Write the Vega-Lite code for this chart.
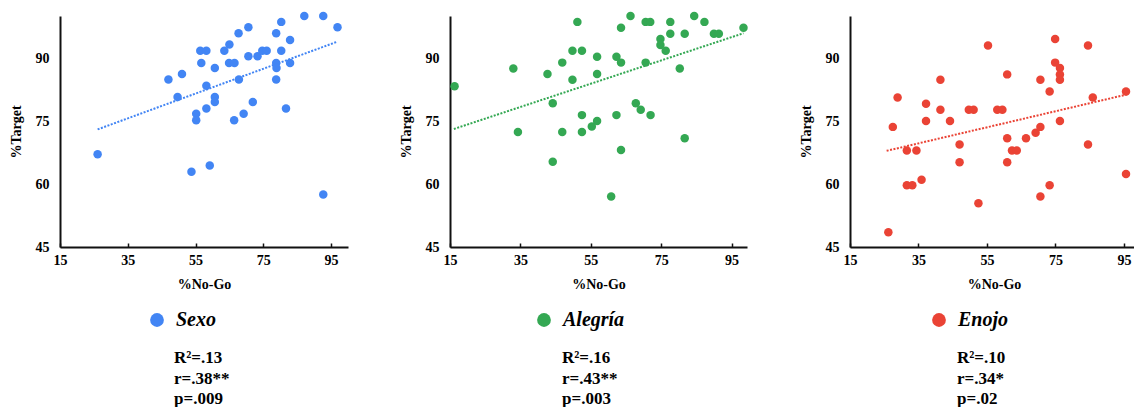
{
  "$schema": "https://vega.github.io/schema/vega-lite/v6.json",
  "background": "white",
  "padding": {"left": 9, "top": 11, "right": 0, "bottom": 0},
  "spacing": 51,
  "datasets": {
    "points": [
      {"g": "Sexo", "nogo": 26.1, "target": 67.1},
      {"g": "Sexo", "nogo": 47.0, "target": 84.9},
      {"g": "Sexo", "nogo": 51.0, "target": 86.2},
      {"g": "Sexo", "nogo": 49.7, "target": 80.7},
      {"g": "Sexo", "nogo": 53.8, "target": 62.9},
      {"g": "Sexo", "nogo": 55.2, "target": 76.7},
      {"g": "Sexo", "nogo": 55.2, "target": 75.2},
      {"g": "Sexo", "nogo": 56.4, "target": 91.7},
      {"g": "Sexo", "nogo": 58.2, "target": 91.7},
      {"g": "Sexo", "nogo": 56.7, "target": 88.8},
      {"g": "Sexo", "nogo": 58.2, "target": 83.4},
      {"g": "Sexo", "nogo": 58.2, "target": 78.0},
      {"g": "Sexo", "nogo": 59.2, "target": 64.4},
      {"g": "Sexo", "nogo": 60.7, "target": 87.6},
      {"g": "Sexo", "nogo": 60.7, "target": 80.7},
      {"g": "Sexo", "nogo": 60.7, "target": 79.5},
      {"g": "Sexo", "nogo": 63.5, "target": 91.7},
      {"g": "Sexo", "nogo": 65.0, "target": 93.2},
      {"g": "Sexo", "nogo": 64.9, "target": 88.8},
      {"g": "Sexo", "nogo": 66.5, "target": 88.8},
      {"g": "Sexo", "nogo": 66.4, "target": 75.2},
      {"g": "Sexo", "nogo": 67.7, "target": 95.9},
      {"g": "Sexo", "nogo": 67.8, "target": 84.9},
      {"g": "Sexo", "nogo": 69.2, "target": 76.7},
      {"g": "Sexo", "nogo": 70.6, "target": 97.3},
      {"g": "Sexo", "nogo": 70.6, "target": 90.4},
      {"g": "Sexo", "nogo": 71.9, "target": 79.5},
      {"g": "Sexo", "nogo": 73.3, "target": 90.4},
      {"g": "Sexo", "nogo": 74.7, "target": 91.7},
      {"g": "Sexo", "nogo": 76.0, "target": 91.7},
      {"g": "Sexo", "nogo": 78.8, "target": 95.9},
      {"g": "Sexo", "nogo": 78.8, "target": 88.8},
      {"g": "Sexo", "nogo": 78.9, "target": 87.6},
      {"g": "Sexo", "nogo": 78.8, "target": 84.9},
      {"g": "Sexo", "nogo": 80.3, "target": 98.6},
      {"g": "Sexo", "nogo": 80.3, "target": 91.7},
      {"g": "Sexo", "nogo": 81.7, "target": 78.0},
      {"g": "Sexo", "nogo": 82.9, "target": 94.3},
      {"g": "Sexo", "nogo": 82.9, "target": 88.8},
      {"g": "Sexo", "nogo": 87.1, "target": 100.0},
      {"g": "Sexo", "nogo": 92.7, "target": 100.0},
      {"g": "Sexo", "nogo": 92.7, "target": 57.5},
      {"g": "Sexo", "nogo": 96.9, "target": 97.3},
      {"g": "Alegría", "nogo": 16.3, "target": 83.3},
      {"g": "Alegría", "nogo": 33.0, "target": 87.5},
      {"g": "Alegría", "nogo": 34.3, "target": 72.4},
      {"g": "Alegría", "nogo": 42.7, "target": 86.2},
      {"g": "Alegría", "nogo": 44.2, "target": 79.2},
      {"g": "Alegría", "nogo": 44.2, "target": 65.3},
      {"g": "Alegría", "nogo": 46.9, "target": 88.9},
      {"g": "Alegría", "nogo": 46.9, "target": 72.4},
      {"g": "Alegría", "nogo": 49.8, "target": 91.7},
      {"g": "Alegría", "nogo": 49.8, "target": 84.8},
      {"g": "Alegría", "nogo": 51.2, "target": 98.6},
      {"g": "Alegría", "nogo": 52.5, "target": 91.7},
      {"g": "Alegría", "nogo": 52.5, "target": 76.4},
      {"g": "Alegría", "nogo": 52.5, "target": 72.4},
      {"g": "Alegría", "nogo": 55.3, "target": 73.7},
      {"g": "Alegría", "nogo": 56.8, "target": 90.3},
      {"g": "Alegría", "nogo": 56.8, "target": 86.2},
      {"g": "Alegría", "nogo": 56.8, "target": 75.0},
      {"g": "Alegría", "nogo": 60.8, "target": 57.0},
      {"g": "Alegría", "nogo": 62.3, "target": 90.3},
      {"g": "Alegría", "nogo": 62.3, "target": 76.4},
      {"g": "Alegría", "nogo": 63.6, "target": 97.2},
      {"g": "Alegría", "nogo": 63.6, "target": 88.9},
      {"g": "Alegría", "nogo": 63.6, "target": 68.1},
      {"g": "Alegría", "nogo": 66.3, "target": 100.0},
      {"g": "Alegría", "nogo": 67.8, "target": 79.2},
      {"g": "Alegría", "nogo": 69.2, "target": 77.7},
      {"g": "Alegría", "nogo": 70.6, "target": 98.6},
      {"g": "Alegría", "nogo": 71.9, "target": 98.6},
      {"g": "Alegría", "nogo": 70.6, "target": 88.9},
      {"g": "Alegría", "nogo": 72.0, "target": 76.4},
      {"g": "Alegría", "nogo": 74.8, "target": 94.5},
      {"g": "Alegría", "nogo": 74.8, "target": 93.1},
      {"g": "Alegría", "nogo": 76.3, "target": 91.7},
      {"g": "Alegría", "nogo": 77.6, "target": 98.6},
      {"g": "Alegría", "nogo": 77.6, "target": 95.8},
      {"g": "Alegría", "nogo": 80.3, "target": 87.5},
      {"g": "Alegría", "nogo": 81.7, "target": 95.8},
      {"g": "Alegría", "nogo": 81.7, "target": 70.9},
      {"g": "Alegría", "nogo": 84.4, "target": 100.0},
      {"g": "Alegría", "nogo": 87.3, "target": 98.6},
      {"g": "Alegría", "nogo": 90.0, "target": 95.8},
      {"g": "Alegría", "nogo": 91.4, "target": 95.8},
      {"g": "Alegría", "nogo": 98.4, "target": 97.2},
      {"g": "Enojo", "nogo": 26.2, "target": 48.5},
      {"g": "Enojo", "nogo": 27.5, "target": 73.6},
      {"g": "Enojo", "nogo": 28.9, "target": 80.6},
      {"g": "Enojo", "nogo": 31.6, "target": 68.0},
      {"g": "Enojo", "nogo": 31.6, "target": 59.7},
      {"g": "Enojo", "nogo": 33.2, "target": 59.7},
      {"g": "Enojo", "nogo": 34.4, "target": 68.0},
      {"g": "Enojo", "nogo": 35.9, "target": 61.0},
      {"g": "Enojo", "nogo": 37.2, "target": 79.1},
      {"g": "Enojo", "nogo": 37.2, "target": 75.0},
      {"g": "Enojo", "nogo": 41.4, "target": 84.8},
      {"g": "Enojo", "nogo": 41.4, "target": 77.7},
      {"g": "Enojo", "nogo": 44.2, "target": 75.0},
      {"g": "Enojo", "nogo": 47.0, "target": 69.4},
      {"g": "Enojo", "nogo": 47.0, "target": 65.2},
      {"g": "Enojo", "nogo": 49.7, "target": 77.7},
      {"g": "Enojo", "nogo": 51.1, "target": 77.7},
      {"g": "Enojo", "nogo": 52.5, "target": 55.4},
      {"g": "Enojo", "nogo": 55.3, "target": 93.0},
      {"g": "Enojo", "nogo": 58.0, "target": 77.7},
      {"g": "Enojo", "nogo": 59.5, "target": 77.7},
      {"g": "Enojo", "nogo": 60.9, "target": 86.1},
      {"g": "Enojo", "nogo": 60.9, "target": 70.9},
      {"g": "Enojo", "nogo": 60.9, "target": 65.2},
      {"g": "Enojo", "nogo": 62.3, "target": 68.0},
      {"g": "Enojo", "nogo": 63.7, "target": 68.0},
      {"g": "Enojo", "nogo": 66.4, "target": 70.9},
      {"g": "Enojo", "nogo": 69.2, "target": 72.2},
      {"g": "Enojo", "nogo": 70.6, "target": 84.8},
      {"g": "Enojo", "nogo": 70.6, "target": 73.6},
      {"g": "Enojo", "nogo": 70.6, "target": 57.0},
      {"g": "Enojo", "nogo": 73.3, "target": 82.0},
      {"g": "Enojo", "nogo": 73.3, "target": 59.7},
      {"g": "Enojo", "nogo": 74.9, "target": 94.5},
      {"g": "Enojo", "nogo": 74.9, "target": 88.9},
      {"g": "Enojo", "nogo": 76.3, "target": 87.6},
      {"g": "Enojo", "nogo": 76.3, "target": 86.1},
      {"g": "Enojo", "nogo": 76.3, "target": 84.8},
      {"g": "Enojo", "nogo": 76.3, "target": 75.0},
      {"g": "Enojo", "nogo": 84.5, "target": 93.0},
      {"g": "Enojo", "nogo": 84.5, "target": 69.4},
      {"g": "Enojo", "nogo": 85.9, "target": 80.6},
      {"g": "Enojo", "nogo": 95.6, "target": 82.0},
      {"g": "Enojo", "nogo": 95.6, "target": 62.4}
    ],
    "trend": [
      {"g": "Sexo", "nogo": 26.1, "target": 73.0},
      {"g": "Sexo", "nogo": 96.9, "target": 93.9},
      {"g": "Alegría", "nogo": 16.1, "target": 73.1},
      {"g": "Alegría", "nogo": 98.4, "target": 95.9},
      {"g": "Enojo", "nogo": 25.7, "target": 67.9},
      {"g": "Enojo", "nogo": 95.8, "target": 81.3}
    ]
  },
  "config": {
    "view": {"stroke": null},
    "font": "Liberation Serif",
    "axis": {
      "labelFont": "Liberation Serif", "labelFontWeight": "bold", "labelFontSize": 14, "labelColor": "#000",
      "titleFont": "Liberation Serif", "titleFontWeight": "bold", "titleFontSize": 14, "titleColor": "#000",
      "grid": false, "domainColor": "#111", "domainWidth": 2, "labelFlush": false
    },
    "axisX": {"tickSize": -4, "tickColor": "#111", "tickWidth": 1.5, "labelPadding": 10, "titlePadding": 10},
    "axisY": {"ticks": false, "labelPadding": 11, "titlePadding": 12},
    "legend": {
      "orient": "none", "title": null, "symbolType": "circle", "symbolSize": 190, "symbolOpacity": 1,
      "labelFont": "Liberation Serif", "labelFontStyle": "italic", "labelFontWeight": "bold",
      "labelFontSize": 20, "labelColor": "#000", "labelOffset": 9, "legendY": 294
    },
    "title": {"font": "Liberation Serif", "fontWeight": "bold", "fontSize": 17, "color": "#000", "lineHeight": 20.5, "orient": "bottom", "anchor": "start", "frame": "group", "offset": 20}
  },
  "resolve": {"scale": {"color": "independent", "x": "independent", "y": "independent"}, "legend": {"color": "independent"}},
  "hconcat": [
    {
      "width": 288, "height": 231,
      "title": {"text": ["R²=.13", "r=.38**", "p=.009"], "dx": 114},
      "layer": [
        {
          "data": {"name": "trend"},
          "transform": [{"filter": "datum.g === 'Sexo'"}],
          "mark": {"type": "line", "color": "#4285F4", "strokeDash": [2, 1.5], "strokeWidth": 2},
          "encoding": {
            "x": {"field": "nogo", "type": "quantitative", "scale": {"domain": [15, 100], "nice": false}},
            "y": {"field": "target", "type": "quantitative", "scale": {"domain": [45, 100], "nice": false}}
          }
        },
        {
          "data": {"name": "points"},
          "transform": [{"filter": "datum.g === 'Sexo'"}],
          "mark": {"type": "circle", "opacity": 1, "size": 72},
          "encoding": {
            "x": {"field": "nogo", "type": "quantitative", "scale": {"domain": [15, 100], "nice": false}, "axis": {"values": [15, 35, 55, 75, 95], "title": "%No-Go"}},
            "y": {"field": "target", "type": "quantitative", "scale": {"domain": [45, 100], "nice": false}, "axis": {"values": [45, 60, 75, 90], "title": "%Target"}},
            "color": {"field": "g", "type": "nominal", "scale": {"domain": ["Sexo"], "range": ["#4285F4"]}, "legend": {"legendX": 87}}
          }
        }
      ]
    },
    {
      "width": 297, "height": 231,
      "title": {"text": ["R²=.16", "r=.43**", "p=.003"], "dx": 112},
      "layer": [
        {
          "data": {"name": "trend"},
          "transform": [{"filter": "datum.g === 'Alegría'"}],
          "mark": {"type": "line", "color": "#34A853", "strokeDash": [2, 1.5], "strokeWidth": 2},
          "encoding": {
            "x": {"field": "nogo", "type": "quantitative", "scale": {"domain": [15, 99.4], "nice": false}},
            "y": {"field": "target", "type": "quantitative", "scale": {"domain": [45, 100], "nice": false}}
          }
        },
        {
          "data": {"name": "points"},
          "transform": [{"filter": "datum.g === 'Alegría'"}],
          "mark": {"type": "circle", "opacity": 1, "size": 72},
          "encoding": {
            "x": {"field": "nogo", "type": "quantitative", "scale": {"domain": [15, 99.4], "nice": false}, "axis": {"values": [15, 35, 55, 75, 95], "title": "%No-Go"}},
            "y": {"field": "target", "type": "quantitative", "scale": {"domain": [45, 100], "nice": false}, "axis": {"values": [45, 60, 75, 90], "title": "%Target"}},
            "color": {"field": "g", "type": "nominal", "scale": {"domain": ["Alegría"], "range": ["#34A853"]}, "legend": {"legendX": 84}}
          }
        }
      ]
    },
    {
      "width": 288, "height": 231,
      "title": {"text": ["R²=.10", "r=.34*", "p=.02"], "dx": 107},
      "layer": [
        {
          "data": {"name": "trend"},
          "transform": [{"filter": "datum.g === 'Enojo'"}],
          "mark": {"type": "line", "color": "#EA4335", "strokeDash": [2, 1.5], "strokeWidth": 2},
          "encoding": {
            "x": {"field": "nogo", "type": "quantitative", "scale": {"domain": [15, 99.1], "nice": false}},
            "y": {"field": "target", "type": "quantitative", "scale": {"domain": [45, 100], "nice": false}}
          }
        },
        {
          "data": {"name": "points"},
          "transform": [{"filter": "datum.g === 'Enojo'"}],
          "mark": {"type": "circle", "opacity": 1, "size": 72},
          "encoding": {
            "x": {"field": "nogo", "type": "quantitative", "scale": {"domain": [15, 99.1], "nice": false}, "axis": {"values": [15, 35, 55, 75, 95], "title": "%No-Go"}},
            "y": {"field": "target", "type": "quantitative", "scale": {"domain": [45, 100], "nice": false}, "axis": {"values": [45, 60, 75, 90], "title": "%Target"}},
            "color": {"field": "g", "type": "nominal", "scale": {"domain": ["Enojo"], "range": ["#EA4335"]}, "legend": {"legendX": 79}}
          }
        }
      ]
    }
  ]
}
